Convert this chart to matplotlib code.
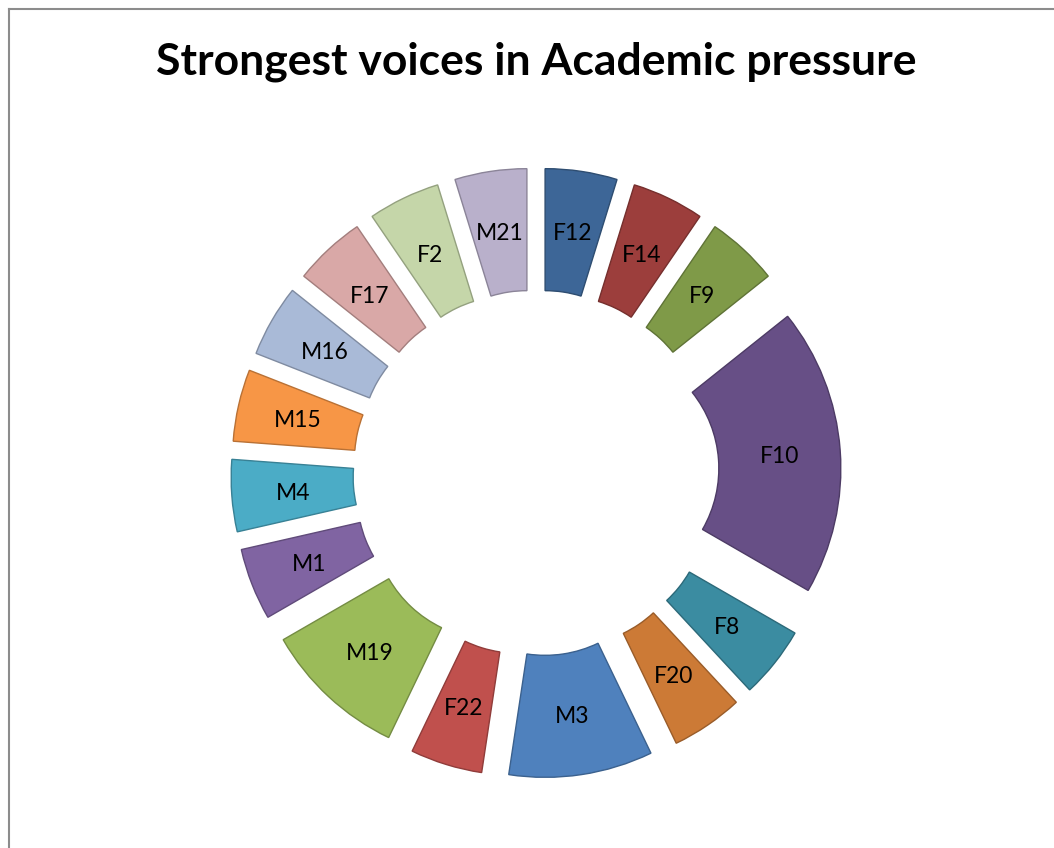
import matplotlib
matplotlib.use("Agg")
import matplotlib.pyplot as plt
from matplotlib.colors import to_rgb
from matplotlib.lines import Line2D

# voices, clockwise from 12 o'clock
labels = ["F12", "F14", "F9", "F10", "F8", "F20", "M3", "F22",
          "M19", "M1", "M4", "M15", "M16", "F17", "F2", "M21"]
values = [1, 1, 1, 4, 1, 1, 2, 1, 2, 1, 1, 1, 1, 1, 1, 1]

colors = ["#3d6697", "#9c3e3c", "#7f9a48", "#674f86", "#3b8ca1", "#cc7a36",
          "#4f81bd", "#c0504d", "#9bbb59", "#8064a2", "#4bacc6", "#f79646",
          "#a9bad7", "#d9a8a7", "#c5d6a9", "#b9b0cb"]


def darker(c, f=0.75):
    r, g, b = to_rgb(c)
    return (r * f, g * f, b * f)


W, H = 1054, 848
fig = plt.figure(figsize=(W / 100, H / 100), dpi=100)
ax = fig.add_axes([0, 0, 1, 1])

# centre of the ring in pixels and outer radius
cx, cy, R = 536, 473, 244

wedges, texts = ax.pie(
    values, labels=labels, colors=colors,
    startangle=90, counterclock=False,
    explode=[0.25] * len(values),
    labeldistance=0.75,
    wedgeprops=dict(width=0.5, linewidth=1.0),
    textprops=dict(fontsize=16.5, family="Lato", color="black"),
)
for w, c in zip(wedges, colors):
    w.set_edgecolor(darker(c))
for t in texts:
    t.set_horizontalalignment("center")
    t.set_verticalalignment("center_baseline")

ax.set_xlim(-cx / R, (W - cx) / R)
ax.set_ylim(-(H - cy) / R, cy / R)
ax.set_aspect("auto")
ax.axis("off")

fig.text(0.509, 1 - 62 / H, "Strongest voices in Academic pressure",
         ha="center", va="center", fontsize=32, fontweight="bold",
         family="Lato")

# chart frame (only left and top edges visible)
fig.add_artist(Line2D([8.5 / W, 8.5 / W], [0, 1 - 9 / H],
                      transform=fig.transFigure, color="#8c8c8c", lw=1.5))
fig.add_artist(Line2D([8.5 / W, 1], [1 - 9 / H, 1 - 9 / H],
                      transform=fig.transFigure, color="#8c8c8c", lw=1.5))

fig.savefig("out.png", dpi=100, facecolor="white")
